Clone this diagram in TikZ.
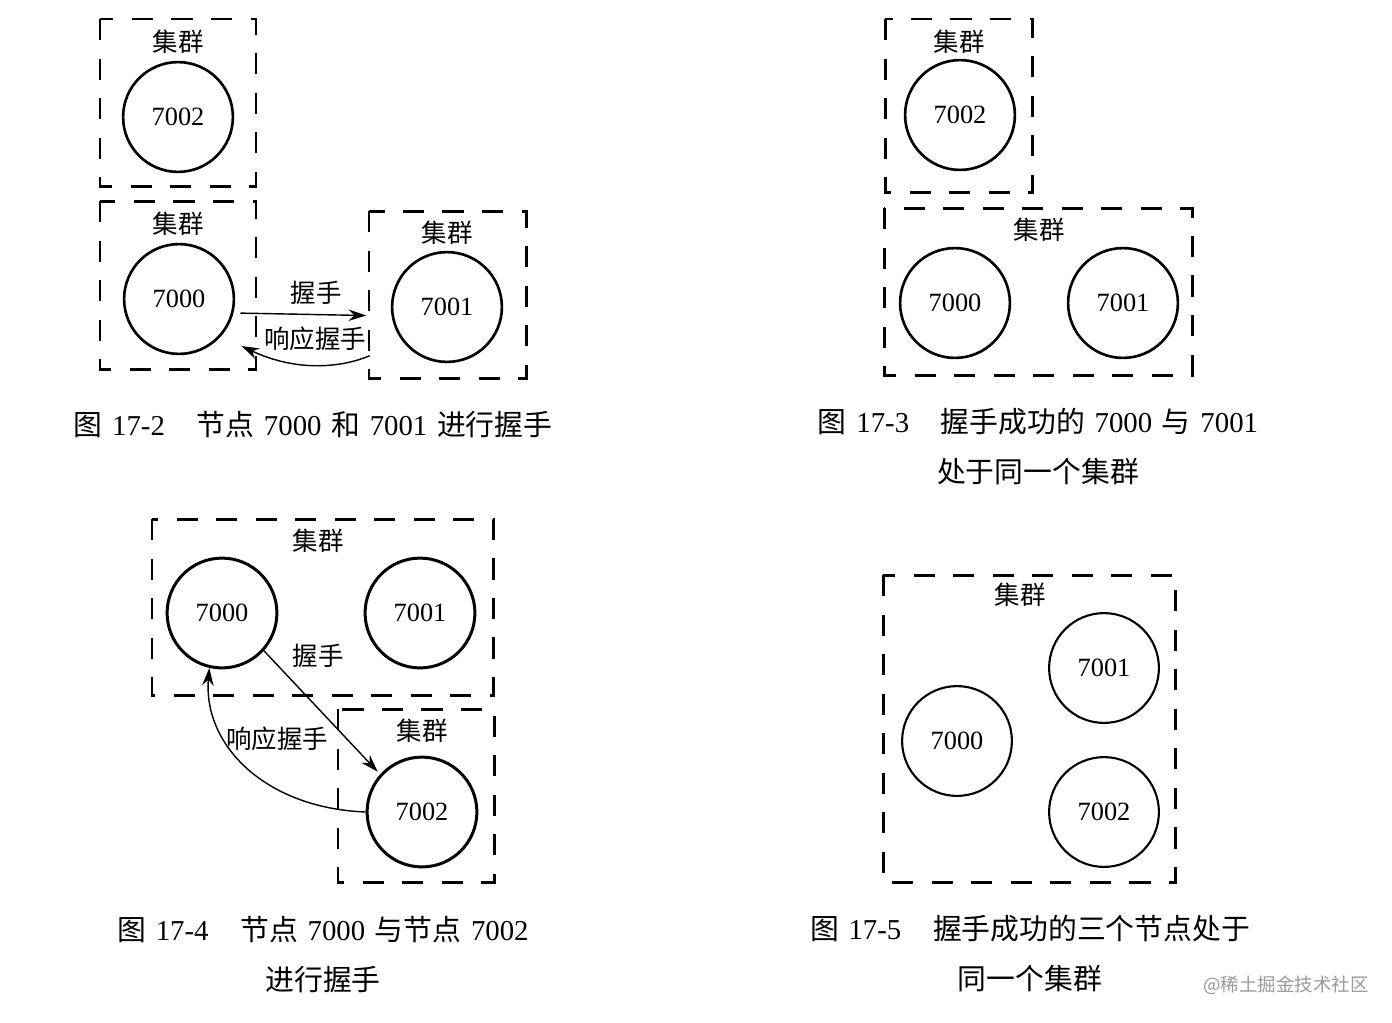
\documentclass[tikz,border=0pt]{standalone}
\usepackage{fontspec}
\setmainfont{Liberation Serif}
\newfontfamily\cjk{Noto Sans CJK SC}
\usetikzlibrary{arrows.meta}
\newcommand{\capfont}{\fontsize{16.4}{16.4}\selectfont}
\newcommand{\wsp}{\hspace{5.5pt}}
\tikzset{
	redis/.style={draw, circle, line width=1.5pt, minimum size=62.5pt, inner sep=0pt, font=\fontsize{15}{15}\selectfont},
	groupbox/.style={draw, line width=1.7pt, dash pattern=on 12pt off 10.5pt},
	grouplabel/.style={font=\cjk\fontsize{14.5}{14.5}\selectfont},
	flowlabel/.style={font=\cjk\fontsize{14.5}{14.5}\selectfont, inner sep=0pt},
	caption/.style={font=\capfont, inner sep=0pt},
	flow/.style={-{Stealth[length=10pt,width=6.5pt]}, line width=0.8pt},
}
\newcommand{\group}[5] % name, x1, y1, x2, y2 in px
{
	\draw[groupbox] (#2,#3) rectangle (#4,#5);
	\coordinate (#1) at (#2,#3);
}
\newcommand{\zh}[1]{{\cjk #1}}
\begin{document}
\begin{tikzpicture}[x=0.02cm,y=-0.02cm]
	% page: 1392 x 1022 px
	\useasboundingbox (0,0) rectangle (1392,1022);

	% figure 17-2
	\group{boxa}{100}{19}{256}{186};
	\group{boxb}{100}{201}{256}{369};
	\group{boxc}{369}{211}{526}{378};
	\node[grouplabel] (laba) at (178,42) {集群};
	\node[grouplabel] (labb) at (178,224) {集群};
	\node[grouplabel] (labc) at (447,233) {集群};
	\node[redis] (a2) at (178,117) {7002};
	\node[redis] (a0) at (179,299) {7000};
	\node[redis] (a1) at (447,307) {7001};
	\draw[flow, shorten <=3pt, shorten >=14pt] (a0.east |- 0,313) -- (a1.west |- 0,316);
	\draw[flow, shorten <=13pt, shorten >=4pt] (a1.west |- 0,347) to[bend left=24] (a0.east |- 0,343);
	\node[flowlabel] (shake) at (316,293) {握手};
	\node[flowlabel] (reply) at (315,339) {响应握手};
	\node[caption] (capa) at (313,425) {\zh{图}\wsp 17-2\hspace{1.1em}\zh{节点}\wsp 7000\wsp\zh{和}\wsp 7001\wsp\zh{进行握手}};

	% figure 17-3
	\group{boxd}{885}{19}{1032}{192};
	\group{boxe}{884}{208}{1192}{375};
	\node[grouplabel] (labd) at (959,42) {集群};
	\node[grouplabel] (labe) at (1039,230) {集群};
	\node[redis] (b2) at (960,115) {7002};
	\node[redis] (b0) at (955,303) {7000};
	\node[redis] (b1) at (1123,303) {7001};
	\node[caption] (capb) at (1038,422) {\zh{图}\wsp 17-3\hspace{1.1em}\zh{握手成功的}\wsp 7000\wsp\zh{与}\wsp 7001};
	\node[caption] (capc) at (1038,472) {\zh{处于同一个集群}};

	% figure 17-4
	\group{boxf}{152}{519}{493}{695};
	\group{boxg}{338}{709}{494}{882};
	\node[grouplabel] (labf) at (318,541) {集群};
	\node[grouplabel] (labg) at (422,731) {集群};
	\node[redis, line width=1.7pt] (c0) at (222,613) {7000};
	\node[redis, line width=1.7pt] (c1) at (420,613) {7001};
	\node[redis, line width=1.7pt] (c2) at (422,812) {7002};
	\draw[flow, shorten >=2pt] (c0.-42) -- (c2.138);
	\draw[flow] (c2.180) .. controls (265,808) and (203,745) .. (c0.257);
	\node[flowlabel] (shakeb) at (318,656) {握手};
	\node[flowlabel] (replyb) at (277,739) {响应握手};
	\node[caption] (capd) at (323,930) {\zh{图}\wsp 17-4\hspace{1.1em}\zh{节点}\wsp 7000\wsp\zh{与节点}\wsp 7002};
	\node[caption] (cape) at (323,980) {\zh{进行握手}};

	% figure 17-5
	\group{boxh}{883}{575}{1175}{882};
	\node[grouplabel] (labh) at (1020,595) {集群};
	\node[redis, line width=1.2pt] (d0) at (957,741) {7000};
	\node[redis, line width=1.2pt] (d1) at (1104,668) {7001};
	\node[redis, line width=1.2pt] (d2) at (1104,812) {7002};
	\node[caption] (capf) at (1030,929) {\zh{图}\wsp 17-5\hspace{1.1em}\zh{握手成功的三个节点处于}};
	\node[caption] (capg) at (1030,979) {\zh{同一个集群}};

	% watermark
	\node[font=\cjk\fontsize{10.5}{10.5}\selectfont, text=black!40, inner sep=0pt] (mark) at (1286,985) {@稀土掘金技术社区};
\end{tikzpicture}
\end{document}
